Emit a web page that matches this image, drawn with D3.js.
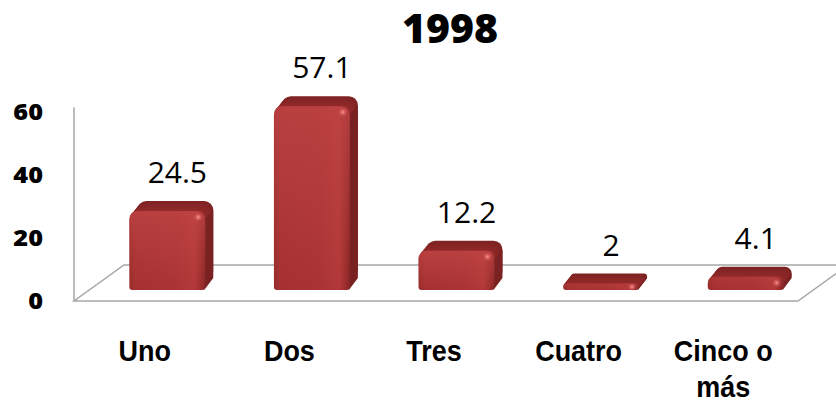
<!DOCTYPE html>
<html lang="es">
<head>
    <meta charset="UTF-8">
    <title>1998</title>
    <style>
        body { margin: 0; background: #fff; }
        svg { display: block; }
        .title { font-family: "Open Sans", sans-serif; font-weight: 800; font-size: 41px; text-anchor: middle; fill: #000; }
        .value-label { font-family: "Open Sans", sans-serif; font-weight: 500; font-size: 30px; text-anchor: middle; fill: #000; }
        .y-axis text { font-family: "Open Sans", sans-serif; font-weight: 800; font-size: 22px; fill: #000; }
        .cat-label { font-family: "Liberation Sans", Arial, sans-serif; font-weight: 700; font-size: 29px; text-anchor: middle; fill: #000; }
        .floor { fill: none; stroke: #a6a6a6; stroke-width: 1.5px; }
    </style>
</head>
<body>
    <svg width="836" height="402"></svg>

    <script src="https://d3js.org/d3.v7.min.js"></script>
    <script>
        // chart data
        const title = "1998";
        const categories = ["Uno", "Dos", "Tres", "Cuatro", "Cinco o más"];
        const values = [24.5, 57.1, 12.2, 2, 4.1];
        const yTicks = [0, 20, 40, 60];

        const svg = d3.select("svg");

        const depth = { dx: 8, dy: -10 };   // 3d offset of the bar backs
        const baseY = 290;                  // bar floor (middle of floor depth)

        const x = d3.scaleBand()
            .domain(categories)
            .range([95, 818])
            .paddingInner(0.475)
            .paddingOuter(0.2375);

        // bars live in the middle plane, axis labels in the front plane
        const barY = d3.scaleLinear().domain([0, 60]).range([baseY, baseY - 60 * 3.22]);
        const axisY = d3.scaleLinear().domain([0, 60]).range([301, 112.5]);

        // gradients
        const defs = svg.append("defs");
        const front = defs.append("linearGradient").attr("id", "front")
            .attr("x1", "0").attr("x2", "1").attr("y1", "0").attr("y2", "0");
        [[0, "#952a2a"], [0.08, "#a53131"], [0.6, "#a93333"], [0.86, "#b33939"], [0.95, "#9a2c2c"], [1, "#842424"]]
            .forEach(s => front.append("stop").attr("offset", s[0]).attr("stop-color", s[1]));
        const shine = defs.append("radialGradient").attr("id", "shine");
        shine.append("stop").attr("offset", 0).attr("stop-color", "#ff9a9a").attr("stop-opacity", 0.95);
        shine.append("stop").attr("offset", 1).attr("stop-color", "#d04a4a").attr("stop-opacity", 0);
        const topEdge = defs.append("linearGradient").attr("id", "topEdge")
            .attr("x1", "0").attr("x2", "0").attr("y1", "0").attr("y2", "1");
        topEdge.append("stop").attr("offset", 0).attr("stop-color", "#c24646").attr("stop-opacity", 0.7);
        topEdge.append("stop").attr("offset", 1).attr("stop-color", "#c24646").attr("stop-opacity", 0);

        // floor and value axis line
        const floorLeft = 74, floorRight = 798, floorFront = 301, floorBack = 265;
        const slant = (floorFront - floorBack) * 1.39;
        svg.append("polygon")
            .attr("class", "floor")
            .attr("points", [
                [floorLeft, floorFront], [floorRight, floorFront],
                [floorRight + slant, floorBack], [floorLeft + slant, floorBack]
            ].map(p => p.join(",")).join(" "));
        svg.append("line")
            .attr("class", "floor")
            .attr("x1", floorLeft).attr("x2", floorLeft)
            .attr("y1", axisY(60) - 5).attr("y2", floorFront);

        // y axis labels
        const yAxis = svg.append("g")
            .attr("class", "y-axis")
            .attr("transform", "translate(43,0)")
            .call(d3.axisLeft(axisY).tickValues(yTicks).tickSize(0).tickPadding(0));
        yAxis.select(".domain").remove();
        yAxis.selectAll("text").attr("transform", "scale(1.15,1)");

        // bars
        const bar = svg.append("g").selectAll("g")
            .data(categories.map((c, i) => ({ cat: c, value: values[i] })))
            .join("g");

        bar.each(function (d) {
            const g = d3.select(this);
            const x0 = x(d.cat), bw = x.bandwidth(), x1 = x0 + bw;
            const yTop = barY(d.value), h = baseY - yTop;
            const r = Math.min(9, h / 2);

            // extruded body: stack of rounded rects from back to front
            const steps = 10;
            for (let s = steps; s >= 1; s--) {
                const t = s / steps;
                g.append("rect")
                    .attr("x", x0 + depth.dx * t)
                    .attr("y", yTop + depth.dy * t)
                    .attr("width", bw)
                    .attr("height", h)
                    .attr("rx", r)
                    .attr("fill", d3.interpolateRgb("#7e2323", "#942a2a")(1 - t));
            }
            // right side face
            g.append("polygon")
                .attr("points", [
                    [x1 - 1, yTop + r], [x1 + depth.dx, yTop + depth.dy + r],
                    [x1 + depth.dx, baseY + depth.dy - 2], [x1 - 1, baseY]
                ].map(p => p.join(",")).join(" "))
                .attr("fill", "#7a2121");

            // front face, rounded top
            const br = Math.min(3, h / 2);
            const p = d3.path();
            p.moveTo(x0, baseY - br);
            p.lineTo(x0, yTop + r);
            p.quadraticCurveTo(x0, yTop, x0 + r, yTop);
            p.lineTo(x1 - r, yTop);
            p.quadraticCurveTo(x1, yTop, x1, yTop + r);
            p.lineTo(x1, baseY - br);
            p.quadraticCurveTo(x1, baseY, x1 - br, baseY);
            p.lineTo(x0 + br, baseY);
            p.quadraticCurveTo(x0, baseY, x0, baseY - br);
            p.closePath();
            g.append("path").attr("d", p.toString()).attr("fill", "url(#front)");
            g.append("path").attr("d", p.toString()).attr("fill", "url(#topEdge)")
                .attr("opacity", h > 14 ? 1 : 0.4);

            // specular spot near the top right corner
            g.append("ellipse")
                .attr("cx", x1 - 7).attr("cy", yTop + Math.min(6, h / 2))
                .attr("rx", 5).attr("ry", Math.min(5, h / 2 + 1))
                .attr("fill", "url(#shine)");
        });

        // value labels
        svg.append("g").selectAll("text")
            .data(values)
            .join("text")
            .attr("class", "value-label")
            .attr("x", (d, i) => x(categories[i]) + x.bandwidth() / 2 + 10)
            .attr("y", d => barY(d) - 28)
            .text(d => String(d));

        // category labels (front plane), wrapped when too long
        const catLabel = svg.append("g").selectAll("text")
            .data(categories)
            .join("text")
            .attr("class", "cat-label")
            .attr("transform", d => `translate(${x(d) + x.bandwidth() / 2 - 22.5},361) scale(0.93,1)`);

        catLabel.each(function (d) {
            const text = d3.select(this);
            const words = d.split(" ");
            let line = [], lineNo = 0;
            let tspan = text.append("tspan").attr("x", 0).attr("y", 0);
            words.forEach(w => {
                line.push(w);
                tspan.text(line.join(" "));
                if (tspan.node().getComputedTextLength() > 115 && line.length > 1) {
                    line.pop();
                    tspan.text(line.join(" "));
                    line = [w];
                    lineNo++;
                    tspan = text.append("tspan").attr("x", 0).attr("y", lineNo * 36).text(w);
                }
            });
        });

        // title
        svg.append("text")
            .attr("class", "title")
            .attr("x", 450)
            .attr("y", 43)
            .text(title);
    </script>
</body>
</html>
